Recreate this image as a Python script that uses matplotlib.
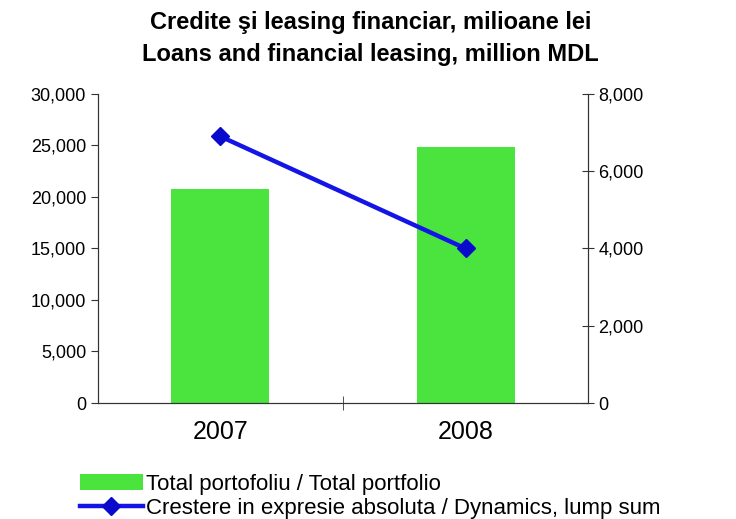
import matplotlib.pyplot as plt
import numpy as np

plt.rcParams['font.family'] = ['Liberation Sans', 'DejaVu Sans']

years = ['2007', '2008']
total_portfolio = [20800, 24850]
absolute_growth = [6900, 4000]

title = 'Credite şi leasing financiar, milioane lei\nLoans and financial leasing, million MDL'
bar_label = 'Total portofoliu / Total portfolio'
line_label = 'Crestere in expresie absoluta / Dynamics, lump sum'

fig = plt.figure(figsize=(7.36, 5.19), dpi=100)
ax = fig.add_axes([0.133, 0.2235, 0.666, 0.5955])
ax2 = ax.twinx()

x = np.arange(len(years))
bars = ax.bar(x, total_portfolio, width=0.4, color='#4be33d', label=bar_label, zorder=2)
line, = ax2.plot(x, absolute_growth, color='#1414e6', linewidth=3.2, marker='D',
                 markersize=9, markerfacecolor='#0a0acc', markeredgecolor='#0a0acc',
                 label=line_label, zorder=3)

ax.set_xlim(-0.5, 1.5)
ax.set_ylim(0, 30000)
ax2.set_ylim(0, 8000)
ax.set_yticks(np.arange(0, 30001, 5000))
ax2.set_yticks(np.arange(0, 8001, 2000))
ax.yaxis.set_major_formatter(plt.FuncFormatter(lambda v, p: f'{int(v):,}'))
ax2.yaxis.set_major_formatter(plt.FuncFormatter(lambda v, p: f'{int(v):,}'))

ax.set_xticks(x)
ax.set_xticklabels(years, fontsize=18)
ax.set_xticks([0.5], minor=True)
ax.tick_params(axis='x', which='major', length=0, pad=12)
ax.tick_params(axis='x', which='minor', direction='inout', length=10, color='#333333')
ax.tick_params(axis='y', labelsize=13, direction='out', length=5, color='#333333')
ax2.tick_params(axis='y', labelsize=13, direction='inout', length=8, color='#333333')

for a in (ax, ax2):
    a.spines['top'].set_visible(False)
    for s in ('left', 'right', 'bottom'):
        a.spines[s].set_color('#333333')

fig.text(0.503, 0.978, title, ha='center', va='top', fontsize=17, fontweight='bold',
         linespacing=1.45)

fig.legend([bars, line], [bar_label, line_label], loc='upper left',
           bbox_to_anchor=(0.097, 0.104), frameon=False, fontsize=16,
           handlelength=2.8, handletextpad=0.15, labelspacing=0.15, borderaxespad=0)

fig.savefig('out.png', dpi=100)
